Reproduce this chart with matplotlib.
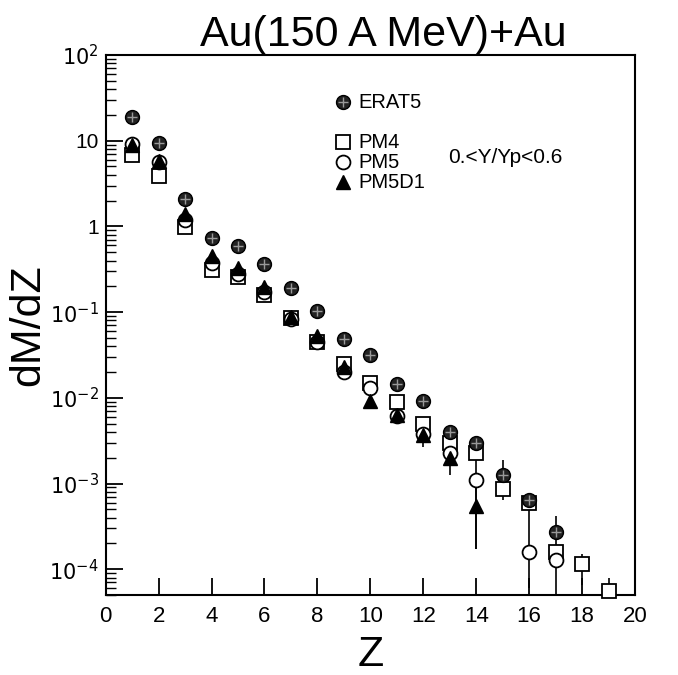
import numpy as np
import matplotlib
matplotlib.use('Agg')
import matplotlib.pyplot as plt
from matplotlib.ticker import FixedLocator, FuncFormatter, LogLocator, NullFormatter

plt.rcParams['font.family'] = ['Liberation Sans', 'DejaVu Sans']

# ----------------------------- data -----------------------------
z_erat = [1, 2, 3, 4, 5, 6, 7, 8, 9, 10, 11, 12, 13, 14, 15, 16, 17]
erat5 = [18.9, 9.4, 2.09, 0.73, 0.59, 0.364, 0.19, 0.103, 0.049, 0.032, 0.0145,
         0.0091, 0.0040, 0.00296, 0.00125, 0.00064, 0.00027]

z_pm4 = [1, 2, 3, 4, 5, 6, 7, 8, 9, 10, 11, 12, 13, 14, 15, 16, 17, 18, 19]
pm4 = [6.8, 3.9, 0.98, 0.31, 0.257, 0.158, 0.085, 0.045, 0.0245, 0.015, 0.0089,
       0.0049, 0.0030, 0.0023, 0.00087, 0.00060, 0.000158, 0.000115, 0.000056]

z_pm5 = [1, 2, 3, 4, 5, 6, 7, 8, 9, 10, 11, 12, 13, 14, 16, 17]
pm5 = [9.2, 5.6, 1.2, 0.37, 0.28, 0.17, 0.083, 0.045, 0.020, 0.013, 0.0062,
       0.0038, 0.0023, 0.0011, 0.00016, 0.000128]

z_pm5d1 = [1, 2, 3, 4, 5, 6, 7, 8, 9, 10, 11, 12, 13, 14]
pm5d1 = [8.9, 5.8, 1.4, 0.45, 0.33, 0.196, 0.087, 0.052, 0.023, 0.0093, 0.0063,
         0.0037, 0.0020, 0.00054]

# error bars (only the visible ones): z, low end, high end
err_z = [12, 13, 14, 14, 15, 16, 16, 17, 18, 19]
err_lo = [0.0027, 0.00125, 0.00017, 0.00017, 0.00064, 0.00038, 0.000060, 0.000052, 0.000066, 0.00005]
err_hi = [0.0055, 0.0030, 0.0025, 0.0011, 0.0019, 0.00075, 0.00038, 0.00042, 0.00015, 0.000080]

ytick_vals = [1e-4, 1e-3, 1e-2, 1e-1, 1, 10, 100]
ytick_txt = [r'$10^{-4}$', r'$10^{-3}$', r'$10^{-2}$', r'$10^{-1}$', '1', '10', r'$10^{2}$']

legend_names = ['ERAT5', 'PM4', 'PM5', 'PM5D1']


def pix2val(yp):
    return 10 ** (2 - (yp - 55) / 85.7)

# ------------------------------- plot ----------------------------------
fig = plt.figure(figsize=(6.78, 6.75), dpi=100)
ax = fig.add_axes([105.7/678, 1-595/675, (635-105.7)/678, (595-55)/675])
ax.set_yscale('log')
ax.set_xlim(0, 20)
ax.set_ylim(5e-5, 100)

ax.vlines(err_z, err_lo, err_hi, color='black', lw=1.2, zorder=1)

ax.plot(z_pm4, pm4, 's', ms=10, mfc='white', mec='black', mew=1.3, zorder=3, clip_on=False)
ax.plot(z_pm5, pm5, 'o', ms=10, mfc='white', mec='black', mew=1.3, zorder=4)
ax.plot(z_pm5d1, pm5d1, '^', ms=10, mfc='black', mec='black', mew=1.0, zorder=5)
ax.plot(z_erat, erat5, 'o', ms=10, mfc='#222222', mec='black', mew=1.0, zorder=6)
ax.plot(z_erat, erat5, '+', ms=7, mec='#999999', mew=1.0, zorder=7)

# legend drawn by hand, like the original
ly = [pix2val(p) for p in [102, 142, 162, 182]]
ax.plot(8.95, ly[0], 'o', ms=10, mfc='#222222', mec='black')
ax.plot(8.95, ly[0], '+', ms=7, mec='#999999', mew=1.0)
ax.plot(8.95, ly[1], 's', ms=10, mfc='white', mec='black', mew=1.3)
ax.plot(8.95, ly[2], 'o', ms=10, mfc='white', mec='black', mew=1.3)
ax.plot(8.95, ly[3], '^', ms=10, mfc='black', mec='black')
for lab, yv in zip(legend_names, ly):
    ax.text(9.55, yv, lab, fontsize=14.5, va='center')
ax.text(12.95, pix2val(157), '0.<Y/Yp<0.6', fontsize=15, va='center')

ax.xaxis.set_major_locator(FixedLocator(range(0, 21, 2)))
ax.yaxis.set_major_locator(FixedLocator(ytick_vals))
ax.yaxis.set_major_formatter(FuncFormatter(lambda v, p: ytick_txt[ytick_vals.index(v)] if v in ytick_vals else ''))
ax.yaxis.set_minor_locator(LogLocator(base=10, subs=np.arange(2, 10), numticks=20))
ax.yaxis.set_minor_formatter(NullFormatter())
ax.tick_params(axis='both', which='major', direction='in', length=12, width=1.3, labelsize=16)
ax.tick_params(axis='y', which='major', labelsize=15, pad=5)
ax.tick_params(axis='y', which='minor', direction='in', length=7, width=1.0)
ax.tick_params(axis='x', pad=8)
for s in ax.spines.values():
    s.set_linewidth(1.5)

ax.set_title('Au(150 A MeV)+Au', fontsize=31, pad=4, x=0.525)
ax.set_xlabel('Z', fontsize=31, labelpad=6)
ax.set_ylabel('dM/dZ', fontsize=31)
ax.yaxis.set_label_coords(-0.108, 0.5)

plt.savefig('out.png', dpi=100)
